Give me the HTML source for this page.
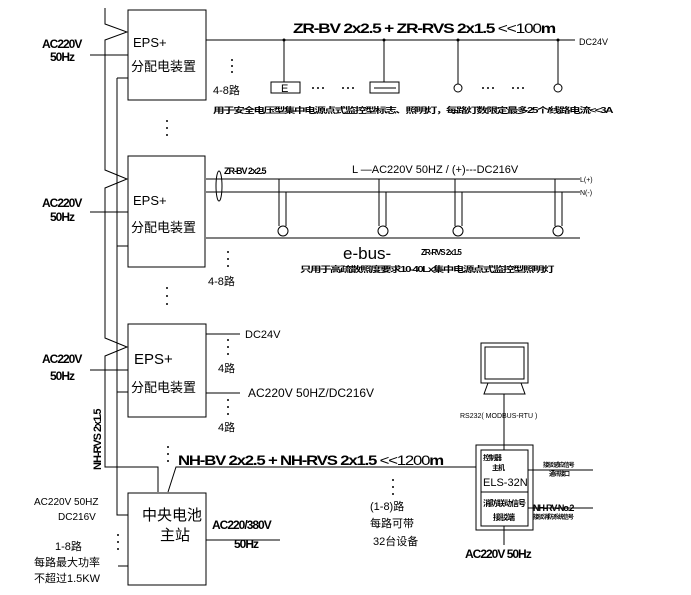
<!DOCTYPE html>
<html><head><meta charset="utf-8"><style>
body{margin:0;background:#fff}
svg{display:block}
text{font-family:"Liberation Sans","Noto Sans CJK SC",sans-serif;fill:#000}
.b{font-weight:bold}
</style></head><body>
<svg width="691" height="595" viewBox="0 0 691 595" xmlns="http://www.w3.org/2000/svg">
<g stroke="#000" stroke-width="1" fill="none">
<polyline points="105,8 105,24 127,32 105,40 105,170 127,179 105,188 105,338 127,347 105,356 105,467 158,467 158,492"/>
<polyline points="117,78 117,515 128,515"/>
<line x1="117" y1="78" x2="128" y2="78"/>
<line x1="117" y1="246" x2="128" y2="246"/>
<line x1="117" y1="392" x2="128" y2="392"/>
<line x1="90" y1="55" x2="128" y2="55"/>
<line x1="90" y1="212" x2="128" y2="212"/>
<line x1="90" y1="370" x2="128" y2="370"/>
<rect x="128" y="10" width="78" height="90"/>
<rect x="128" y="156" width="77" height="111"/>
<rect x="128" y="324" width="78" height="93"/>
<rect x="128" y="493" width="78" height="92"/>
<line x1="206" y1="40" x2="575" y2="40"/>
<line x1="284" y1="40" x2="284" y2="82"/>
<line x1="384" y1="40" x2="384" y2="82"/>
<line x1="458" y1="40" x2="458" y2="84"/>
<line x1="558" y1="40" x2="558" y2="84"/>
<rect x="271" y="82" width="29" height="11"/>
<rect x="370" y="82" width="29" height="11"/>
<line x1="374" y1="88" x2="396" y2="88"/>
<circle cx="458" cy="88" r="4"/>
<circle cx="558" cy="88" r="4"/>
<line x1="206" y1="179" x2="580" y2="179"/>
<line x1="206" y1="192" x2="580" y2="192"/>
<line x1="206" y1="238" x2="580" y2="238"/>
<ellipse cx="219" cy="186" rx="3" ry="15"/>
<line x1="279" y1="179" x2="279" y2="226"/><line x1="286" y1="192" x2="286" y2="226"/>
<line x1="379" y1="179" x2="379" y2="226"/><line x1="386" y1="192" x2="386" y2="226"/>
<line x1="455" y1="179" x2="455" y2="226"/><line x1="462" y1="192" x2="462" y2="226"/>
<line x1="555" y1="179" x2="555" y2="226"/><line x1="562" y1="192" x2="562" y2="226"/>
<circle cx="283" cy="231" r="5"/><circle cx="383" cy="231" r="5"/><circle cx="458" cy="231" r="5"/><circle cx="558" cy="231" r="5"/>
<line x1="206" y1="334" x2="240" y2="334"/>
<line x1="206" y1="393" x2="240" y2="393"/>
<polyline points="168,492 176,467 476,467"/>
<line x1="206" y1="540" x2="280" y2="540"/>
<line x1="118" y1="566" x2="128" y2="566"/>
<rect x="476" y="445" width="57" height="85"/>
<rect x="481" y="450" width="47" height="76"/>
<line x1="481" y1="492" x2="528" y2="492"/>
<line x1="528" y1="470" x2="593" y2="470"/>
<line x1="528" y1="508" x2="593" y2="508"/>
<line x1="504" y1="526" x2="504" y2="545"/>
<line x1="504" y1="394" x2="504" y2="450"/>
<rect x="481" y="343" width="47" height="40"/>
<rect x="485" y="347" width="39" height="32"/>
<polygon points="488,383 521,383 525,394 484,394"/>
</g>
<g fill="#000">
<circle cx="284" cy="40" r="1.5"/><circle cx="384" cy="40" r="1.5"/><circle cx="458" cy="40" r="1.5"/><circle cx="558" cy="40" r="1.5"/>
</g>
<g font-size="13">
<text x="133" y="47">EPS+</text><text x="131" y="71">分配电装置</text>
<text x="133" y="205">EPS+</text><text x="131" y="232">分配电装置</text>
<text x="134" y="364" font-size="15">EPS+</text><text x="131" y="392">分配电装置</text>
<text x="142" y="520" font-size="15">中央电池</text><text x="160" y="540" font-size="15">主站</text>
</g>
<g class="b" font-size="12" letter-spacing="-1">
<text x="42" y="48">AC220V</text><text x="50" y="61">50Hz</text>
<text x="42" y="207">AC220V</text><text x="50" y="221">50Hz</text>
<text x="42" y="363">AC220V</text><text x="50" y="380">50Hz</text>
<text x="293" y="33" font-size="14" textLength="262" lengthAdjust="spacingAndGlyphs">ZR-BV 2x2.5 + ZR-RVS 2x1.5 <tspan font-weight="normal">&lt;&lt;100</tspan>m</text>
<text x="224" y="174" font-size="9">ZR-BV 2x2.5</text>
<text x="178" y="465" font-size="14" textLength="265" lengthAdjust="spacingAndGlyphs">NH-BV 2x2.5 + NH-RVS 2x1.5 <tspan font-weight="normal">&lt;&lt;1200</tspan>m</text>
<text x="212" y="529">AC220/380V</text><text x="234" y="548">50Hz</text>
<text x="465" y="558">AC220V 50Hz</text>
<text x="213" y="113" font-size="8" textLength="399" lengthAdjust="spacingAndGlyphs">用于安全电压型集中电源点式监控型标志、照明灯，每路灯数限定最多25个/线路电流&lt;&lt;3A</text>
<text x="300" y="272" font-size="8" textLength="253" lengthAdjust="spacingAndGlyphs">只用于高疏散照度要求10-40Lx集中电源点式监控型照明灯</text>
<text x="421" y="255" font-size="8">ZR-RVS 2x1.5</text>
<text x="101" y="470" transform="rotate(-90 101 470)" font-size="11">NH-RVS 2x1.5</text>
<text x="483" y="460" font-size="7">控制器</text><text x="492" y="470" font-size="7">主机</text>
<text x="543" y="467" font-size="6">接驳 感应信号</text><text x="549" y="476" font-size="6">通讯接口</text>
<text x="533" y="511" font-size="9">NH-RV-No.2</text><text x="533" y="519" font-size="6">接驳消防系统信号</text>
<text x="483" y="506" font-size="8">消防联动信号</text><text x="493" y="520" font-size="8">接驳端</text>
</g>
<g font-size="11">
<text x="579" y="45" font-size="9">DC24V</text>
<text x="213" y="94">4-8路</text>
<text x="352" y="173">L —AC220V 50HZ / (+)---DC216V</text>
<text x="580" y="182" font-size="7">L(+)</text><text x="580" y="195" font-size="7">N(-)</text>
<text x="343" y="259" font-size="17">e-bus-</text>
<text x="208" y="285">4-8路</text>
<text x="245" y="338">DC24V</text>
<text x="248" y="397" font-size="12">AC220V 50HZ/DC216V</text>
<text x="218" y="372">4路</text><text x="218" y="431">4路</text>
<text x="460" y="418" font-size="7">RS232( MODBUS-RTU )</text>
<text x="483" y="486" font-size="11">ELS-32N</text>
<text x="370" y="510">(1-8)路</text><text x="370" y="527">每路可带</text><text x="373" y="545">32台设备</text>
<text x="34" y="505" font-size="10">AC220V 50HZ</text><text x="58" y="520" font-size="10">DC216V</text>
<text x="55" y="550">1-8路</text><text x="34" y="566">每路最大功率</text><text x="34" y="582">不超过1.5KW</text>
</g>
<g fill="#000">
<circle cx="232" cy="60" r="1"/><circle cx="232" cy="66" r="1"/><circle cx="232" cy="72" r="1"/>
<circle cx="167" cy="121" r="1"/><circle cx="167" cy="128" r="1"/><circle cx="167" cy="135" r="1"/>
<circle cx="228" cy="252" r="1"/><circle cx="228" cy="259" r="1"/><circle cx="228" cy="266" r="1"/>
<circle cx="167" cy="288" r="1"/><circle cx="167" cy="296" r="1"/><circle cx="167" cy="304" r="1"/>
<circle cx="228" cy="340" r="1"/><circle cx="228" cy="347" r="1"/><circle cx="228" cy="354" r="1"/>
<circle cx="228" cy="400" r="1"/><circle cx="228" cy="407" r="1"/><circle cx="228" cy="414" r="1"/>
<circle cx="168" cy="447" r="1"/><circle cx="168" cy="454" r="1"/><circle cx="168" cy="461" r="1"/>
<circle cx="393" cy="480" r="1"/><circle cx="393" cy="487" r="1"/><circle cx="393" cy="494" r="1"/>
<circle cx="118" cy="535" r="1"/><circle cx="118" cy="542" r="1"/><circle cx="118" cy="549" r="1"/>
<circle cx="313" cy="88" r="1"/><circle cx="318" cy="88" r="1"/><circle cx="323" cy="88" r="1"/>
<circle cx="343" cy="88" r="1"/><circle cx="348" cy="88" r="1"/><circle cx="353" cy="88" r="1"/>
<circle cx="483" cy="88" r="1"/><circle cx="488" cy="88" r="1"/><circle cx="493" cy="88" r="1"/>
<circle cx="513" cy="88" r="1"/><circle cx="518" cy="88" r="1"/><circle cx="523" cy="88" r="1"/>
</g>
<text x="281" y="92" font-size="11">E</text>
</svg>
</body></html>
